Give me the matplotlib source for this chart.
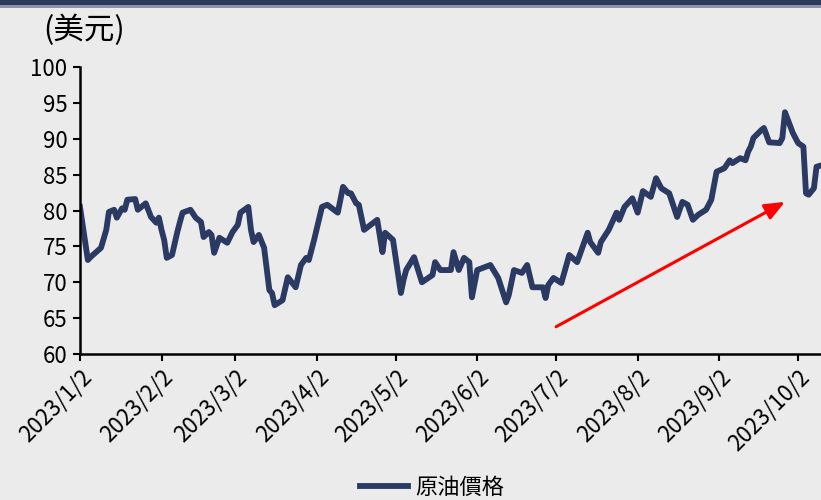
import matplotlib
matplotlib.use("Agg")
import matplotlib.pyplot as plt
import numpy as np
import pandas as pd
from matplotlib.patches import Rectangle

plt.rcParams['font.family'] = ['Noto Sans CJK TC', 'DejaVu Sans']

# 原油價格 (美元)，2023 年
dates = [
    "2023-01-02", "2023-01-05", "2023-01-06", "2023-01-10", "2023-01-12", "2023-01-13",
    "2023-01-15", "2023-01-16", "2023-01-18", "2023-01-19", "2023-01-20", "2023-01-23",
    "2023-01-24", "2023-01-27", "2023-01-29", "2023-01-31", "2023-02-01", "2023-02-02",
    "2023-02-03", "2023-02-04", "2023-02-06", "2023-02-08", "2023-02-09", "2023-02-10",
    "2023-02-13", "2023-02-15", "2023-02-17", "2023-02-18", "2023-02-20", "2023-02-21",
    "2023-02-22", "2023-02-24", "2023-02-27", "2023-03-01", "2023-03-03", "2023-03-04",
    "2023-03-07", "2023-03-08", "2023-03-09", "2023-03-11", "2023-03-13", "2023-03-15",
    "2023-03-16", "2023-03-17", "2023-03-20", "2023-03-22", "2023-03-25", "2023-03-27",
    "2023-03-29", "2023-03-30", "2023-04-01", "2023-04-04", "2023-04-06", "2023-04-10",
    "2023-04-12", "2023-04-14", "2023-04-15", "2023-04-17", "2023-04-18", "2023-04-20",
    "2023-04-25", "2023-04-27", "2023-04-28", "2023-05-01", "2023-05-04", "2023-05-05",
    "2023-05-06", "2023-05-09", "2023-05-12", "2023-05-16", "2023-05-17", "2023-05-19",
    "2023-05-23", "2023-05-24", "2023-05-26", "2023-05-28", "2023-05-30", "2023-05-31",
    "2023-06-02", "2023-06-07", "2023-06-10", "2023-06-13", "2023-06-14", "2023-06-16",
    "2023-06-19", "2023-06-21", "2023-06-23", "2023-06-27", "2023-06-28", "2023-06-29",
    "2023-07-01", "2023-07-04", "2023-07-07", "2023-07-10", "2023-07-14", "2023-07-15",
    "2023-07-18", "2023-07-19", "2023-07-22", "2023-07-25", "2023-07-26", "2023-07-28",
    "2023-07-31", "2023-08-02", "2023-08-04", "2023-08-07", "2023-08-09", "2023-08-11",
    "2023-08-14", "2023-08-17", "2023-08-19", "2023-08-21", "2023-08-23", "2023-08-25",
    "2023-08-28", "2023-08-30", "2023-09-01", "2023-09-04", "2023-09-06", "2023-09-07",
    "2023-09-10", "2023-09-12", "2023-09-13", "2023-09-14", "2023-09-15", "2023-09-18",
    "2023-09-19", "2023-09-21", "2023-09-25", "2023-09-26", "2023-09-27", "2023-09-30",
    "2023-10-02", "2023-10-04", "2023-10-05", "2023-10-06", "2023-10-08", "2023-10-09",
    "2023-10-11",
]
prices = [
    80.5, 73.1, 73.5, 74.8, 77.3, 79.8,
    80.1, 79.0, 80.3, 80.1, 81.5, 81.6,
    80.1, 81.0, 79.1, 78.3, 79.0, 77.3,
    75.9, 73.4, 73.8, 77.0, 78.4, 79.7,
    80.1, 79.0, 78.4, 76.3, 77.0, 76.6,
    74.1, 76.2, 75.5, 77.0, 78.0, 79.7,
    80.5, 77.3, 75.6, 76.6, 74.8, 68.9,
    68.5, 66.8, 67.5, 70.7, 69.3, 72.4,
    73.4, 73.1, 75.9, 80.5, 80.8, 79.7,
    83.3, 82.4, 82.4, 81.0, 80.8, 77.3,
    78.7, 74.2, 76.9, 75.9, 68.5, 70.3,
    71.7, 73.5, 70.0, 71.0, 72.8, 71.7,
    71.7, 74.2, 71.7, 73.4, 72.8, 67.9,
    71.7, 72.4, 70.6, 67.2, 68.2, 71.7,
    71.3, 72.4, 69.3, 69.3, 67.8, 69.6,
    70.6, 69.9, 73.8, 72.8, 76.9, 75.6,
    74.1, 75.6, 77.3, 79.7, 78.7, 80.5,
    81.7, 79.7, 82.7, 81.9, 84.5, 83.1,
    82.4, 79.1, 81.2, 80.8, 78.7, 79.4,
    80.1, 81.5, 85.4, 85.9, 87.0, 86.6,
    87.3, 87.0, 88.2, 88.9, 90.1, 91.2,
    91.5, 89.5, 89.4, 90.1, 93.7, 90.8,
    89.4, 88.9, 82.4, 82.2, 83.1, 86.1,
    86.3,
]

tick_dates = ["2023-01-02", "2023-02-02", "2023-03-02", "2023-04-02", "2023-05-02",
              "2023-06-02", "2023-07-02", "2023-08-02", "2023-09-02", "2023-10-02"]
tick_labels = ["2023/1/2", "2023/2/2", "2023/3/2", "2023/4/2", "2023/5/2",
               "2023/6/2", "2023/7/2", "2023/8/2", "2023/9/2", "2023/10/2"]

# 趨勢箭頭起訖 (日期, 價格)
arrow_start = ("2023-07-02", 63.8)
arrow_end = ("2023-09-27", 81.2)

bg = "#EBEBEB"
navy = "#2B3A63"

x = pd.to_datetime(dates)

fig = plt.figure(figsize=(8.21, 5.0), dpi=100, facecolor=bg)
ax = fig.add_axes([0.0974, 0.292, 0.9026, 0.574])
ax.set_facecolor(bg)

ax.plot(x, prices, color=navy, lw=4.2, solid_joinstyle="round", label="原油價格")

ax.set_ylim(60, 100)
ax.set_yticks(np.arange(60, 101, 5))
x0 = pd.Timestamp("2023-01-02")
ax.set_xlim(x0, x0 + pd.Timedelta(days=281.7))
ax.set_xticks(pd.to_datetime(tick_dates))
ax.set_xticklabels(tick_labels, rotation=45, ha="right", rotation_mode="anchor")

for side in ("top", "right"):
    ax.spines[side].set_visible(False)
for side in ("left", "bottom"):
    ax.spines[side].set_linewidth(1.8)
    ax.spines[side].set_color("black")
ax.tick_params(axis="both", length=5, width=1.5, labelsize=16, colors="black")
ax.tick_params(axis="x", pad=3)
ax.tick_params(axis="y", pad=4)

ax.annotate("", xy=(pd.Timestamp(arrow_end[0]), arrow_end[1]),
            xytext=(pd.Timestamp(arrow_start[0]), arrow_start[1]),
            arrowprops=dict(arrowstyle="-|>,head_length=1.2,head_width=0.5",
                            color="red", lw=2.2, shrinkA=0, shrinkB=0))

fig.text(0.053, 0.94, "(美元)", fontsize=22, va="center", ha="left")

# 頂端色帶
fig.patches.append(Rectangle((0, 0.99), 1, 0.01, transform=fig.transFigure,
                             facecolor="#2B3A5C", edgecolor="none"))
fig.patches.append(Rectangle((0, 0.984), 1, 0.006, transform=fig.transFigure,
                             facecolor="#8A93A8", edgecolor="none"))

fig.legend(loc="center", bbox_to_anchor=(0.526, 0.026), frameon=False,
           fontsize=16, handlelength=2.2, handletextpad=0.3)

fig.savefig("out.png", dpi=100, facecolor=bg)
